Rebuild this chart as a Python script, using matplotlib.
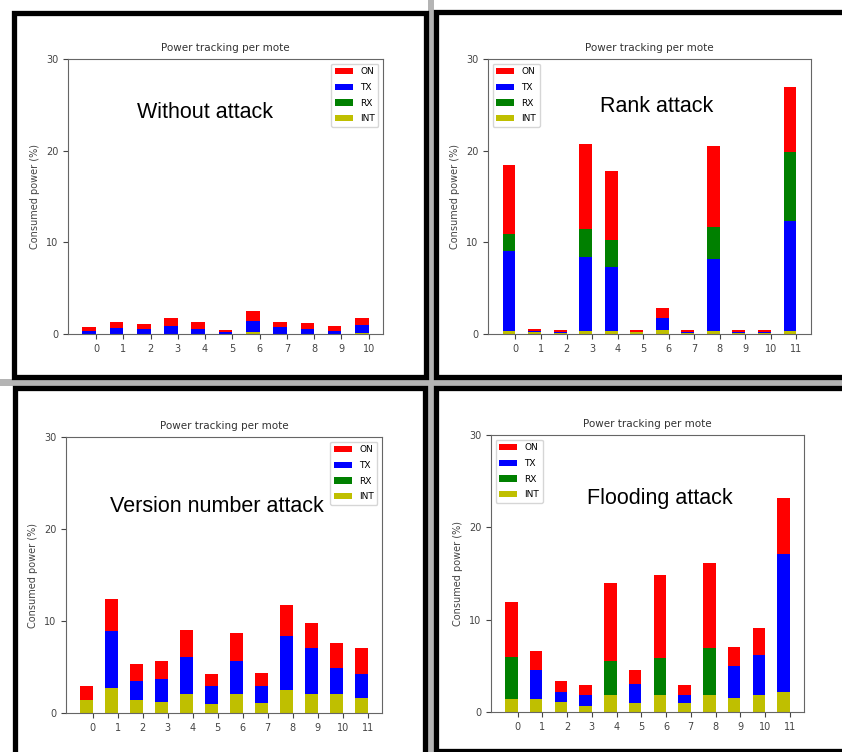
import numpy as np
import matplotlib
matplotlib.use("Agg")
import matplotlib.pyplot as plt
from matplotlib.patches import Rectangle

# ---------------------------------------------------------------- data
# segment values per mote (INT at the bottom, then TX, RX, ON on top)
wo_int = [0.05, 0.05, 0.05, 0.05, 0.05, 0.05, 0.2, 0.05, 0.05, 0.05, 0.1]
wo_tx = [0.25, 0.6, 0.5, 0.85, 0.5, 0.15, 1.25, 0.71, 0.5, 0.31, 0.9]
wo_rx = [0, 0, 0, 0, 0, 0, 0, 0, 0, 0, 0]
wo_on = [0.46, 0.69, 0.54, 0.84, 0.72, 0.27, 1.02, 0.58, 0.65, 0.48, 0.74]

rank_int = [0.35, 0.25, 0.1, 0.35, 0.35, 0.2, 0.4, 0.1, 0.35, 0.1, 0.1, 0.35]
rank_tx = [8.73, 0.05, 0.12, 8.0, 6.91, 0.05, 1.34, 0.12, 7.82, 0.12, 0.12, 12.0]
rank_rx = [1.85, 0, 0, 3.09, 2.98, 0, 0, 0, 3.49, 0, 0, 7.48]
rank_on = [7.52, 0.24, 0.25, 9.3, 7.49, 0.22, 1.06, 0.25, 8.9, 0.25, 0.25, 7.09]

ver_int = [1.38, 2.76, 1.38, 1.24, 2.1, 0.94, 2.1, 1.09, 2.54, 2.1, 2.03, 1.67]
ver_tx = [0, 6.1, 2.14, 2.43, 4.04, 1.96, 3.53, 1.81, 5.85, 4.95, 2.87, 2.62]
ver_rx = [0, 0, 0, 0, 0, 0, 0, 0, 0, 0, 0, 0]
ver_on = [1.52, 3.53, 1.82, 1.96, 2.86, 1.39, 3.09, 1.5, 3.38, 2.72, 2.73, 2.76]

fl_int = [1.37, 1.37, 1.08, 0.61, 1.88, 0.98, 1.88, 0.98, 1.88, 1.55, 1.88, 2.17]
fl_tx = [0, 3.22, 1.09, 1.27, 0, 2.09, 0, 0.9, 0, 3.4, 4.26, 14.96]
fl_rx = [4.59, 0, 0, 0, 3.61, 0, 3.97, 0, 5.02, 0, 0, 0]
fl_on = [5.97, 1.99, 1.19, 1.05, 8.53, 1.52, 8.97, 1.05, 9.25, 2.1, 3.0, 6.04]

# ---------------------------------------------------------------- figure
W, H = 842, 752
fig = plt.figure(figsize=(W / 100, H / 100), dpi=100)


def px_rect(x0, y0, x1, y1):
    # pixel box (top-left origin) -> figure fraction [l, b, w, h]
    return [x0 / W, 1 - y1 / H, (x1 - x0) / W, (y1 - y0) / H]


# gray gaps between the screenshots
for (x0, y0, x1, y1) in [(428, 0, 434, H), (0, 379, W, 386)]:
    l, b, w, h = px_rect(x0, y0, x1, y1)
    fig.patches.append(Rectangle((l, b), w, h, transform=fig.transFigure,
                                 facecolor="#b4b4b4", edgecolor="none", zorder=0))

# black frames round each screenshot
frames = [(14.5, 12.5, 426.5, 377.0), (435.5, 11.5, 860, 377.0),
          (15.0, 387.5, 425.5, 800), (436.0, 388.0, 900, 750.5)]
for (x0, y0, x1, y1) in frames:
    l, b, w, h = px_rect(x0, y0, x1, y1)
    fig.patches.append(Rectangle((l, b), w, h, transform=fig.transFigure,
                                 facecolor="white", edgecolor="black",
                                 linewidth=3.8, zorder=1))

panels = [
    (px_rect(68, 59, 383, 334), wo_int, wo_tx, wo_rx, wo_on,
     "Without attack", (0.435, 0.804), "upper right"),
    (px_rect(488, 59, 811, 334), rank_int, rank_tx, rank_rx, rank_on,
     "Rank attack", (0.523, 0.829), "upper left"),
    (px_rect(66, 437, 382, 713), ver_int, ver_tx, ver_rx, ver_on,
     "Version number attack", (0.478, 0.75), "upper right"),
    (px_rect(491, 435, 804, 712), fl_int, fl_tx, fl_rx, fl_on,
     "Flooding attack", (0.54, 0.769), "upper left"),
]

for rect, v_int, v_tx, v_rx, v_on, label, pos, loc in panels:
    ax = fig.add_axes(rect, zorder=2)
    v_int, v_tx, v_rx, v_on = map(np.array, (v_int, v_tx, v_rx, v_on))
    x = np.arange(len(v_on))
    left = x - 0.5
    h_int = ax.bar(left, v_int, 0.5, align="edge", color="y")
    h_tx = ax.bar(left, v_tx, 0.5, align="edge", bottom=v_int, color="b")
    h_rx = ax.bar(left, v_rx, 0.5, align="edge", bottom=v_int + v_tx, color="g")
    h_on = ax.bar(left, v_on, 0.5, align="edge",
                  bottom=v_int + v_tx + v_rx, color="r")
    ax.set_ylim(0, 30)
    ax.set_yticks([0, 10, 20, 30])
    ax.set_xticks(x)
    ax.set_title("Power tracking per mote", fontsize=7.5, color="#333333")
    ax.set_ylabel("Consumed power (%)", fontsize=7, color="#444444")
    ax.tick_params(labelsize=7, colors="#444444")
    for s in ax.spines.values():
        s.set_color("#666666")
    ax.legend((h_on, h_tx, h_rx, h_int), ("ON", "TX", "RX", "INT"),
              loc=loc, fontsize=6.5, handlelength=2.0, labelspacing=0.75)
    ax.text(pos[0], pos[1], label, transform=ax.transAxes, ha="center",
            va="center", fontsize=15.5, family="Liberation Sans", color="black")

fig.savefig("out.png", dpi=100)
